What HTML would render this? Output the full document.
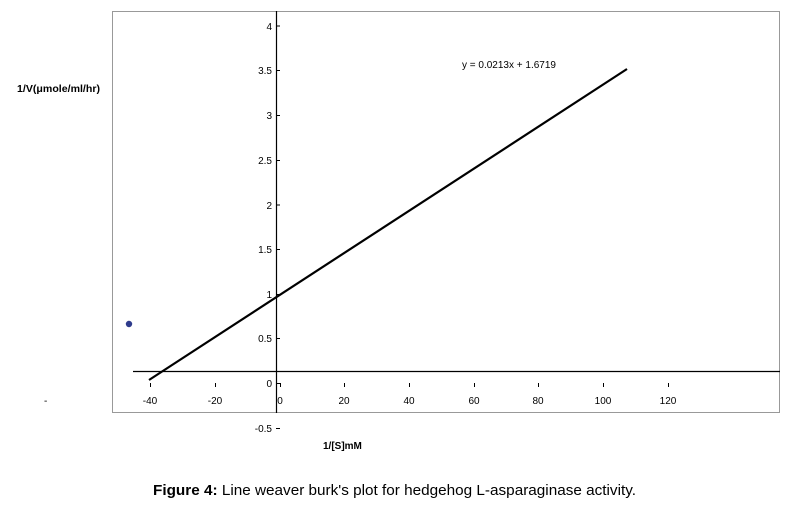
<!DOCTYPE html>
<html><head><meta charset="utf-8"><style>
body{margin:0;background:#fff;width:794px;height:504px;overflow:hidden}
</style></head><body>
<svg width="794" height="504" xmlns="http://www.w3.org/2000/svg" font-family="Liberation Sans, Arial, sans-serif">
<rect x="112.5" y="11.5" width="667" height="401" fill="none" stroke="#999" stroke-width="1"/>
<line x1="276.5" y1="11" x2="276.5" y2="413" stroke="#000" stroke-width="1.2"/>
<line x1="133" y1="371.5" x2="780" y2="371.5" stroke="#000" stroke-width="1.2"/>
<g stroke="#000" stroke-width="1">
<line x1="276" y1="26" x2="280" y2="26"/><line x1="276" y1="70.5" x2="280" y2="70.5"/>
<line x1="276" y1="115.5" x2="280" y2="115.5"/><line x1="276" y1="160.5" x2="280" y2="160.5"/>
<line x1="276" y1="205" x2="280" y2="205"/><line x1="276" y1="249.5" x2="280" y2="249.5"/>
<line x1="276" y1="294.5" x2="280" y2="294.5"/><line x1="276" y1="338.5" x2="280" y2="338.5"/>
<line x1="276" y1="383.5" x2="280" y2="383.5"/><line x1="276" y1="428.5" x2="280" y2="428.5"/>
<line x1="150.5" y1="383" x2="150.5" y2="387"/><line x1="215.5" y1="383" x2="215.5" y2="387"/>
<line x1="280.5" y1="383" x2="280.5" y2="387"/><line x1="344.5" y1="383" x2="344.5" y2="387"/>
<line x1="409.5" y1="383" x2="409.5" y2="387"/><line x1="474.5" y1="383" x2="474.5" y2="387"/>
<line x1="538.5" y1="383" x2="538.5" y2="387"/><line x1="603.5" y1="383" x2="603.5" y2="387"/>
<line x1="668.5" y1="383" x2="668.5" y2="387"/>
</g>
<g font-size="10" fill="#000" text-anchor="end">
<text x="272" y="30">4</text><text x="272" y="74">3.5</text><text x="272" y="119">3</text>
<text x="272" y="164">2.5</text><text x="272" y="209">2</text><text x="272" y="253">1.5</text>
<text x="272" y="298">1</text><text x="272" y="342">0.5</text><text x="272" y="387">0</text>
<text x="272" y="432">-0.5</text>
</g>
<g font-size="10" fill="#000" text-anchor="middle">
<text x="150" y="404">-40</text><text x="215" y="404">-20</text><text x="280" y="404">0</text>
<text x="344" y="404">20</text><text x="409" y="404">40</text><text x="474" y="404">60</text>
<text x="538" y="404">80</text><text x="603" y="404">100</text><text x="668" y="404">120</text>
</g>
<text x="44" y="404" font-size="10">-</text>
<line x1="149" y1="380" x2="627" y2="69" stroke="#000" stroke-width="2.2"/>
<circle cx="129" cy="324" r="3.2" fill="#2e3b8c"/>
<text x="462" y="68" font-size="10">y = 0.0213x + 1.6719</text>
<text x="17" y="92" font-size="10" font-weight="bold" textLength="83" lengthAdjust="spacingAndGlyphs">1/V(μmole/ml/hr)</text>
<text x="323" y="449" font-size="10" font-weight="bold">1/[S]mM</text>
<text x="153" y="495" font-size="14.5" textLength="483" lengthAdjust="spacingAndGlyphs"><tspan font-weight="bold">Figure 4:</tspan> Line weaver burk's plot for hedgehog L-asparaginase activity.</text>
</svg>
</body></html>
